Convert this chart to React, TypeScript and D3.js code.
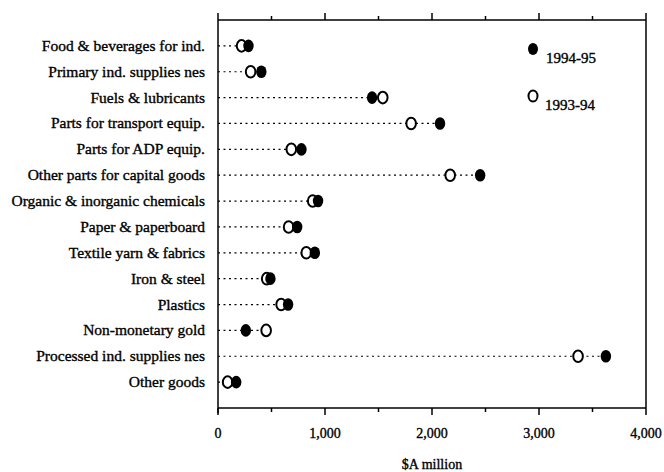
import * as d3 from "d3";
import { useEffect, useRef } from "react";

// Imports by commodity, $A million
const categories = [
  "Food & beverages for ind.",
  "Primary ind. supplies nes",
  "Fuels & lubricants",
  "Parts for transport equip.",
  "Parts for ADP equip.",
  "Other parts for capital goods",
  "Organic & inorganic chemicals",
  "Paper & paperboard",
  "Textile yarn & fabrics",
  "Iron & steel",
  "Plastics",
  "Non-monetary gold",
  "Processed ind. supplies nes",
  "Other goods",
];
const values9394 = [220, 305, 1540, 1805, 685, 2170, 885, 660, 825, 455, 590, 450, 3365, 90];
const values9495 = [285, 405, 1440, 2075, 780, 2450, 935, 740, 905, 490, 655, 260, 3625, 170];
const seriesNames = ["1994-95", "1993-94"];
const xTicks = [0, 1000, 2000, 3000, 4000];

const WIDTH = 664;
const HEIGHT = 472;
const FONT = "'Liberation Serif', 'Times New Roman', serif";

const DotPlot = () => {
  const svgRef = useRef<SVGSVGElement>(null);

  useEffect(() => {
    const svg = d3.select(svgRef.current);
    svg.selectAll("*").remove();

    const left = 218;
    const right = 646;
    const top = 20;
    const bottom = 408;

    const x = d3.scaleLinear().domain([0, 4000]).range([left, right]);
    const y = d3.scalePoint<string>().domain(categories).range([top, bottom]).padding(1);

    const g = svg.append("g");

    // scanned look: text a touch heavier
    const ink = (sel: any) => sel.attr("fill", "#000").attr("stroke", "#000").attr("stroke-width", 0.35);

    // frame: left axis and right border
    g.append("line").attr("x1", left).attr("x2", left).attr("y1", top).attr("y2", bottom + 5)
      .attr("stroke", "#000").attr("stroke-width", 1.5);
    g.append("line").attr("x1", right).attr("x2", right).attr("y1", top).attr("y2", bottom)
      .attr("stroke", "#000").attr("stroke-width", 1.5);

    // top and bottom axes, ticks pointing outward
    const minor = d3.range(0, 4001, 500);
    [
      { yy: top, dir: -1 },
      { yy: bottom, dir: 1 },
    ].forEach(({ yy, dir }) => {
      g.append("line").attr("x1", left).attr("x2", right).attr("y1", yy).attr("y2", yy)
        .attr("stroke", "#000").attr("stroke-width", 1.5);
      g.selectAll(null)
        .data(minor)
        .join("line")
        .attr("x1", (d) => x(d))
        .attr("x2", (d) => x(d))
        .attr("y1", yy)
        .attr("y2", (d) => yy + dir * (d % 1000 === 0 ? 7 : 4))
        .attr("stroke", "#000")
        .attr("stroke-width", 1.5);
    });

    g.selectAll(null)
      .data(xTicks)
      .join("text")
      .attr("x", (d) => x(d))
      .attr("y", 438)
      .attr("text-anchor", "middle")
      .attr("font-family", FONT)
      .attr("font-size", 14)
      .call(ink)
      .text((d) => d3.format(",")(d));

    g.append("text")
      .attr("x", x(2000))
      .attr("y", 469)
      .attr("text-anchor", "middle")
      .attr("font-family", FONT)
      .attr("font-size", 14)
      .call(ink)
      .text("$A million");

    // category labels
    g.selectAll(null)
      .data(categories)
      .join("text")
      .attr("x", 205)
      .attr("y", (d) => (y(d) ?? 0) + 5)
      .attr("text-anchor", "end")
      .attr("font-family", FONT)
      .attr("font-size", 15.5)
      .call(ink)
      .text((d) => d);

    // dotted leaders from zero to the larger value
    g.selectAll(null)
      .data(categories)
      .join("line")
      .attr("x1", left)
      .attr("x2", (d, i) => x(Math.max(values9394[i], values9495[i])))
      .attr("y1", (d) => y(d) ?? 0)
      .attr("y2", (d) => y(d) ?? 0)
      .attr("stroke", "#000")
      .attr("stroke-width", 1.2)
      .attr("stroke-dasharray", "2,3.5");

    // 1993-94 open circles
    g.selectAll(null)
      .data(categories)
      .join("ellipse")
      .attr("cx", (d, i) => x(values9394[i]))
      .attr("cy", (d) => y(d) ?? 0)
      .attr("rx", 4.8)
      .attr("ry", 5.8)
      .attr("fill", "#fff")
      .attr("stroke", "#000")
      .attr("stroke-width", 2);

    // 1994-95 filled circles
    g.selectAll(null)
      .data(categories)
      .join("ellipse")
      .attr("cx", (d, i) => x(values9495[i]))
      .attr("cy", (d) => y(d) ?? 0)
      .attr("rx", 5.2)
      .attr("ry", 6.3)
      .attr("fill", "#000");

    // legend
    const legend = g.append("g");
    legend.append("ellipse").attr("cx", 533).attr("cy", 49).attr("rx", 5).attr("ry", 6).attr("fill", "#000");
    legend.append("text").attr("x", 546).attr("y", 63)
      .attr("font-family", FONT).attr("font-size", 15).call(ink).text(seriesNames[0]);
    legend.append("ellipse").attr("cx", 533).attr("cy", 96).attr("rx", 4.5).attr("ry", 5.5)
      .attr("fill", "#fff").attr("stroke", "#000").attr("stroke-width", 2);
    legend.append("text").attr("x", 545).attr("y", 110)
      .attr("font-family", FONT).attr("font-size", 15).call(ink).text(seriesNames[1]);
  }, []);

  return (
    <svg
      ref={svgRef}
      width={WIDTH}
      height={HEIGHT}
      style={{ position: "absolute", left: 0, top: 0, background: "#fff" }}
    ></svg>
  );
};

export default function App() {
  return <DotPlot />;
}
